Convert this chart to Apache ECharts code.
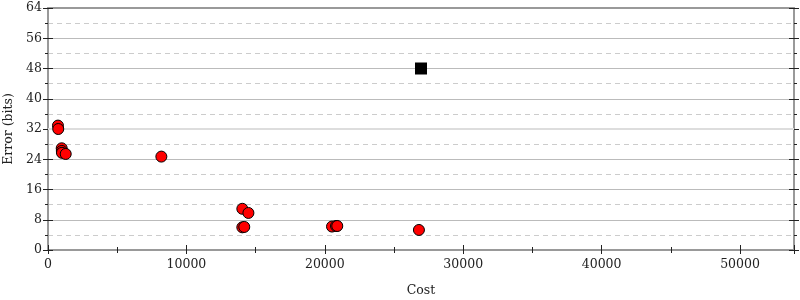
<!DOCTYPE html>
<html><head><meta charset="utf-8">
<script src="https://cdn.jsdelivr.net/npm/echarts@6/dist/echarts.min.js"></script>
<style>html,body{margin:0;padding:0;background:#fff}#c{width:800px;height:300px}</style>
</head><body><div id="c"></div>
<script>
const redCost = [720, 740, 990, 1000, 1010, 1280, 8190, 14040, 14480, 14040, 14180, 20520, 20810, 20900, 26800];
const redError = [32.9, 32.0, 26.9, 26.2, 25.7, 25.4, 24.7, 10.9, 9.8, 6.0, 6.1, 6.2, 6.35, 6.35, 5.3];
const blackCost = [26950];
const blackError = [48];
const refLineError = [32];
const xMax = 53900;
const yMax = 64;

const font = 'DejaVu Serif';
const fs = 12.5;
const axisCol = '#999';
function pairs(a, b) { return a.map((v, i) => [v, b[i]]); }

const common = { min: 0, type: 'value' };
const option = {
  animation: false,
  grid: { left: 48, right: 6, top: 8, bottom: 50, containLabel: false, outerBoundsMode: 'none' },
  xAxis: [
    Object.assign({}, common, {
      max: xMax, interval: 10000, position: 'bottom',
      name: 'Cost', nameLocation: 'middle', nameGap: 34,
      nameTextStyle: { fontFamily: font, fontSize: fs, color: '#222' },
      axisLine: { show: true, onZero: false, lineStyle: { color: axisCol, width: 2 } },
      axisTick: { show: true, length: 4, lineStyle: { color: '#222' } },
      minorTick: { show: true, splitNumber: 2, length: 3, lineStyle: { color: '#222' } },
      axisLabel: { fontFamily: font, fontSize: fs, color: '#222', margin: 8, showMaxLabel: false,
        formatter: v => String(v) },
      splitLine: { show: false }
    }),
    Object.assign({}, common, {
      max: xMax, interval: 10000, position: 'bottom',
      axisLine: { show: false, onZero: false },
      axisTick: { show: true, inside: true, length: 5, lineStyle: { color: '#222' } },
      minorTick: { show: true, splitNumber: 2, length: 3, lineStyle: { color: '#222' } },
      axisLabel: { show: false }, splitLine: { show: false }
    }),
    Object.assign({}, common, {
      max: xMax, interval: 10000, position: 'top',
      axisLine: { show: true, onZero: false, lineStyle: { color: axisCol, width: 2 } },
      axisTick: { show: false }, axisLabel: { show: false }, splitLine: { show: false }
    })
  ],
  yAxis: [
    Object.assign({}, common, {
      max: yMax, interval: 8, position: 'left',
      name: 'Error (bits)', nameLocation: 'middle', nameGap: 33, nameRotate: 90,
      nameTextStyle: { fontFamily: font, fontSize: fs, color: '#222' },
      axisLine: { show: true, onZero: false, lineStyle: { color: axisCol, width: 2 } },
      axisTick: { show: true, length: 5, lineStyle: { color: '#222' } },
      minorTick: { show: true, splitNumber: 2, length: 3, lineStyle: { color: '#222' } },
      axisLabel: { fontFamily: font, fontSize: fs, color: '#222', margin: 6 },
      splitLine: { show: true, lineStyle: { color: '#bbb', width: 1 } },
      minorSplitLine: { show: true, lineStyle: { color: '#ccc', width: 1, type: [5, 4] } }
    }),
    Object.assign({}, common, {
      max: yMax, interval: 8, position: 'left',
      axisLine: { show: false, onZero: false },
      axisTick: { show: true, inside: true, length: 5, lineStyle: { color: '#222' } },
      minorTick: { show: false },
      axisLabel: { show: false }, splitLine: { show: false }
    }),
    Object.assign({}, common, {
      max: yMax, interval: 8, position: 'right',
      axisLine: { show: true, onZero: false, lineStyle: { color: axisCol, width: 2 } },
      axisTick: { show: true, length: 5, lineStyle: { color: '#222' } },
      minorTick: { show: true, splitNumber: 2, length: 3, lineStyle: { color: '#222' } },
      axisLabel: { show: false }, splitLine: { show: false }
    }),
    Object.assign({}, common, {
      max: yMax, interval: 8, position: 'right',
      axisLine: { show: false, onZero: false },
      axisTick: { show: true, inside: true, length: 5, lineStyle: { color: '#222' } },
      minorTick: { show: false },
      axisLabel: { show: false }, splitLine: { show: false }
    })
  ],
  series: [
    {
      type: 'scatter', xAxisIndex: 0, yAxisIndex: 0, data: [], z: 1,
      markLine: {
        silent: true, symbol: 'none', label: { show: false }, z: 1,
        lineStyle: { color: '#ddd', width: 2, type: 'solid' },
        data: refLineError.map(v => ({ yAxis: v }))
      }
    },
    {
      type: 'scatter', xAxisIndex: 0, yAxisIndex: 0,
      data: pairs(redCost, redError),
      symbol: 'circle', symbolSize: 11,
      itemStyle: { color: '#ff0000', borderColor: '#000', borderWidth: 1, opacity: 1 },
      z: 5
    },
    {
      type: 'scatter', xAxisIndex: 0, yAxisIndex: 0,
      data: pairs(blackCost, blackError),
      symbol: 'rect', symbolSize: 12,
      itemStyle: { color: '#000', borderColor: '#000', borderWidth: 0, opacity: 1 },
      z: 5
    }
  ]
};
const chart = echarts.init(document.getElementById('c'), null, { renderer: 'canvas' });
chart.setOption(option);
</script></body></html>
